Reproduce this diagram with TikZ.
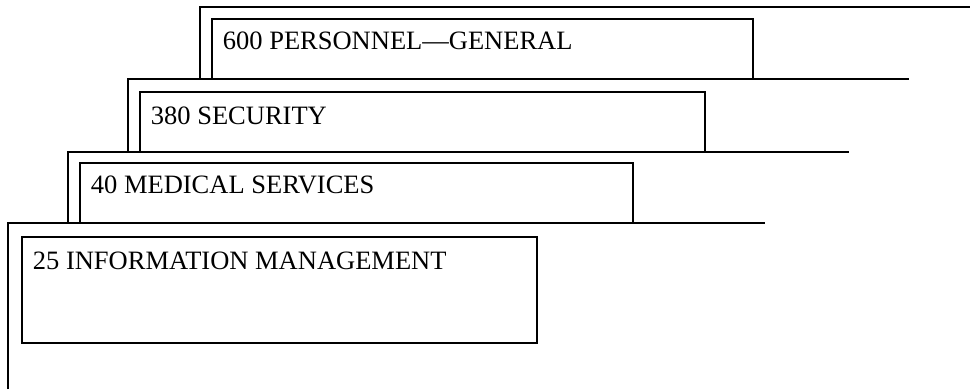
\documentclass[tikz,border=0pt]{standalone}
\usepackage{fontspec}
\setmainfont{Liberation Serif}

\tikzset{
  tabbox/.style={draw, inner sep=0pt, outer sep=0pt, anchor=north west},
  tablabel/.style={inner sep=0pt, anchor=base west, font=\fontsize{26.5}{30}\selectfont}
}

\begin{document}
\begin{tikzpicture}[x=1pt, y=-1pt, line width=1.8pt]
  \useasboundingbox (0,0) rectangle (972,389);
  % folder edges, back to front
  \draw (200,79) -- (200,7) -- (970,7);
  \draw (128,152) -- (128,79) -- (909,79);
  \draw (68,223) -- (68,152) -- (849,152);
  \draw (8,389) -- (8,223) -- (765,223);
  % tabs
  \node [tabbox, minimum width=541pt, minimum height=60pt] (personnel) at (212,19) {};
  \node [tabbox, minimum width=565pt, minimum height=60pt] (security) at (140,92) {};
  \node [tabbox, minimum width=553pt, minimum height=60pt] (medical) at (80,163) {};
  \node [tabbox, minimum width=515pt, minimum height=106pt] (infomgmt) at (22,237) {};
  \node [tablabel] (personnel-text) at ([xshift=10pt, yshift=-30pt] personnel.north west) {600 PERSONNEL---GENERAL};
  \node [tablabel] (security-text) at ([xshift=10pt, yshift=-32pt] security.north west) {380 SECURITY};
  \node [tablabel] (medical-text) at ([xshift=10pt, yshift=-30pt] medical.north west) {40 MEDICAL SERVICES};
  \node [tablabel] (infomgmt-text) at ([xshift=10pt, yshift=-32pt] infomgmt.north west) {25 INFORMATION MANAGEMENT};
\end{tikzpicture}
\end{document}
